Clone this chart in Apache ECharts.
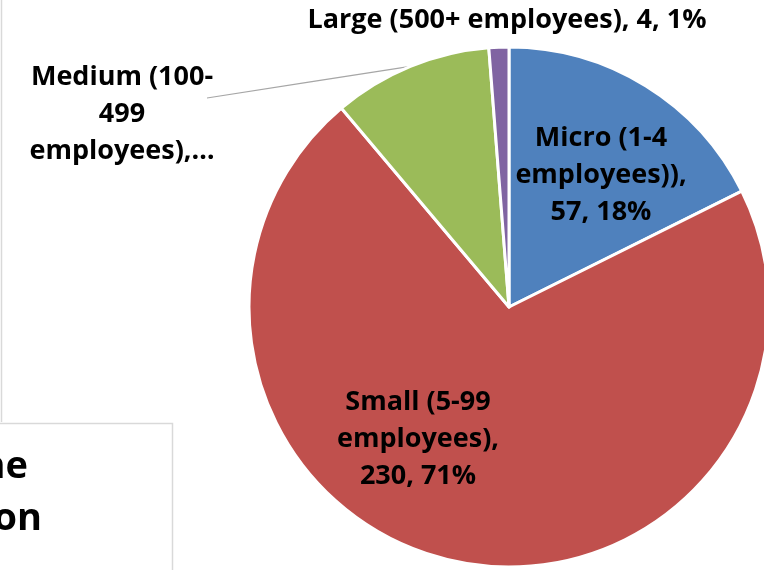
<!DOCTYPE html>
<html>
<head>
<meta charset="utf-8">
<script src="https://cdn.jsdelivr.net/npm/echarts@6/dist/echarts.min.js"></script>
<style>
  html, body { margin: 0; padding: 0; background: #ffffff; }
  #chart { width: 764px; height: 570px; }
</style>
</head>
<body>
<div id="chart"></div>
<script>
// ---- data ----
const categories = ['Micro (1-4 employees))', 'Small (5-99 employees)', 'Medium (100-499 employees)', 'Large (500+ employees)'];
const values = [57, 230, 32, 4];
const labelTexts = [
  'Micro (1-4\nemployees)),\n57, 18%',
  'Small (5-99\nemployees),\n230, 71%',
  'Medium (100-\n499\nemployees),\u2026',
  'Large (500+ employees), 4, 1%'
];
const cutTexts = ['he', 'on'];

// ---- layout / style ----
const sliceColors = ['#4F81BD', '#C0504D', '#9BBB59', '#8064A2'];
const labelAnchors = [[601, 175], [418, 439], [122, 114], [507, 20]];
const showLeader = [false, false, true, false];
const FONT = '"Open Sans"';

const chart = echarts.init(document.getElementById('chart'), null, { renderer: 'canvas' });

const option = {
  animation: false,
  backgroundColor: '#ffffff',
  graphic: [
    { type: 'line', shape: { x1: 1.5, y1: 0, x2: 1.5, y2: 422 }, style: { stroke: '#D9D9D9', lineWidth: 1.5 } },
    { type: 'polyline', shape: { points: [[0, 423.5], [172.5, 423.5], [172.5, 570]] }, style: { stroke: '#D9D9D9', lineWidth: 1.5, fill: null } },
    { type: 'text', x: 28, y: 486, style: { text: cutTexts[0], align: 'right', verticalAlign: 'bottom', font: 'bold 38px ' + FONT, fill: '#000000' } },
    { type: 'text', x: 42, y: 538, style: { text: cutTexts[1], align: 'right', verticalAlign: 'bottom', font: 'bold 38px ' + FONT, fill: '#000000' } }
  ],
  series: [{
    type: 'pie',
    center: [509, 307],
    radius: 260,
    startAngle: 90,
    clockwise: true,
    avoidLabelOverlap: false,
    silent: true,
    emphasis: { disabled: true },
    itemStyle: { borderColor: '#ffffff', borderWidth: 3 },
    label: {
      show: true,
      position: 'outside',
      fontFamily: FONT,
      fontWeight: 'bold',
      fontSize: 27,
      lineHeight: 37,
      color: '#000000',
      align: 'center',
      formatter: function (p) { return labelTexts[p.dataIndex]; }
    },
    labelLine: { show: true, length: 10, length2: 10, lineStyle: { color: '#A6A6A6', width: 1.2 } },
    labelLayout: function (params) {
      const i = params.dataIndex;
      const a = labelAnchors[i];
      const res = { x: a[0], y: a[1], align: 'center', verticalAlign: 'middle' };
      if (showLeader[i] && params.labelLinePoints) {
        const p0 = params.labelLinePoints[0];
        const end = [a[0] + 85, a[1] - 16];
        const mid = [(p0[0] + end[0]) / 2, (p0[1] + end[1]) / 2];
        res.labelLinePoints = [p0, mid, end];
      }
      return res;
    },
    data: categories.map(function (name, i) {
      return {
        name: name,
        value: values[i],
        itemStyle: { color: sliceColors[i] },
        labelLine: { show: showLeader[i] }
      };
    })
  }]
};

chart.setOption(option);
</script>
</body>
</html>
